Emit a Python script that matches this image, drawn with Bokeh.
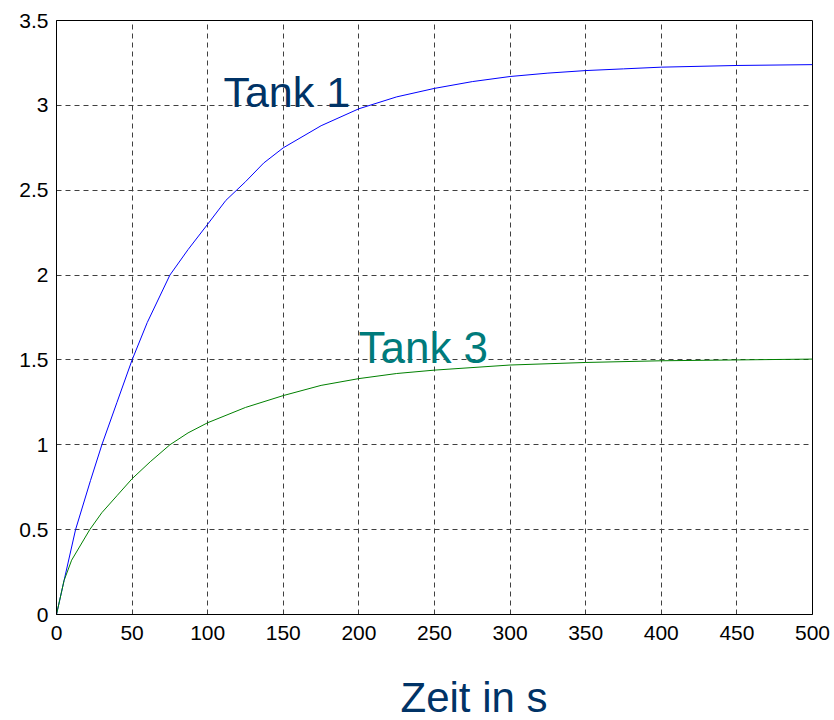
from bokeh.plotting import figure
from bokeh.models import Range1d, FixedTicker, Label, Title
from bokeh.embed import file_html
from bokeh.resources import INLINE

# Data
t1_time = [0, 5, 12.6, 22.5, 30, 40, 50, 60, 75, 87, 100, 112, 125, 137, 150, 175, 200, 225, 250, 275, 300, 325, 350, 375, 400, 450, 500]
t1_level = [0, 0.2, 0.5, 0.79, 1.0, 1.25, 1.5, 1.72, 2.0, 2.15, 2.3, 2.44, 2.55, 2.66, 2.75, 2.88, 2.98, 3.05, 3.1, 3.14, 3.17, 3.19, 3.205, 3.215, 3.225, 3.235, 3.24]
t3_time = [0, 5, 10, 22, 30, 40, 50, 62, 75, 87, 100, 125, 150, 175, 200, 225, 250, 300, 350, 400, 450, 500]
t3_level = [0, 0.2, 0.32, 0.5, 0.6, 0.7, 0.8, 0.9, 1.0, 1.07, 1.13, 1.22, 1.29, 1.35, 1.39, 1.42, 1.44, 1.47, 1.485, 1.495, 1.5, 1.505]
x_ticks = [0, 50, 100, 150, 200, 250, 300, 350, 400, 450, 500]
y_ticks = [0, 0.5, 1, 1.5, 2, 2.5, 3, 3.5]
x_label = "Zeit in s"
label1 = "Tank 1"
label3 = "Tank 3"

p = figure(width=834, height=720, output_backend="svg", toolbar_location=None,
           x_range=Range1d(0, 500), y_range=Range1d(0, 3.5),
           min_border_left=56, min_border_right=22, min_border_top=20, min_border_bottom=106)
p.background_fill_color = "white"
p.border_fill_color = "white"
p.outline_line_color = "black"
p.outline_line_width = 1

p.line(t1_time, t1_level, line_color="#0000ff", line_width=1)
p.line(t3_time, t3_level, line_color="#008000", line_width=1)

for ax in (p.xaxis[0], p.yaxis[0]):
    ax.major_tick_line_color = None
    ax.minor_tick_line_color = None
    ax.major_tick_out = 0
    ax.major_tick_in = 0
    ax.minor_tick_out = 0
    ax.minor_tick_in = 0
    ax.axis_line_color = "black"
    ax.major_label_text_font = "Liberation Sans"
    ax.major_label_text_font_size = "21px"
    ax.major_label_text_color = "black"
p.xaxis[0].ticker = FixedTicker(ticks=x_ticks)
p.yaxis[0].ticker = FixedTicker(ticks=y_ticks)
p.xaxis[0].major_label_standoff = 11
p.yaxis[0].major_label_standoff = 8
p.yaxis[0].major_label_overrides = {3.5: "3.5", 3: "3", 2.5: "2.5", 2: "2", 1.5: "1.5", 1: "1", 0.5: "0.5", 0: "0"}
# blank axis label only reserves room so that the axis title sits low
p.xaxis[0].axis_label = " "
p.xaxis[0].axis_label_text_font_size = "10px"
p.xaxis[0].axis_label_standoff = 20

for g in (p.xgrid[0], p.ygrid[0]):
    g.grid_line_color = "#404040"
    g.grid_line_dash = "5 4"
    g.grid_line_width = 1

p.add_layout(Label(x=110.4, y=3.078, text=label1, text_font="Liberation Sans",
                   text_font_size="43px", text_color="#003366", text_baseline="alphabetic"))
p.add_layout(Label(x=199.7, y=1.573, text=label3, text_font="Liberation Sans",
                   text_font_size="44px", text_color="#007b7b", text_baseline="alphabetic"))
p.add_layout(Title(text=x_label, text_font="Liberation Sans", text_font_size="42px",
                   text_font_style="normal", text_color="#003366", align="left",
                   vertical_align="bottom", offset=344, standoff=-10), "below")

open("out.html", "w").write(file_html(p, INLINE))
